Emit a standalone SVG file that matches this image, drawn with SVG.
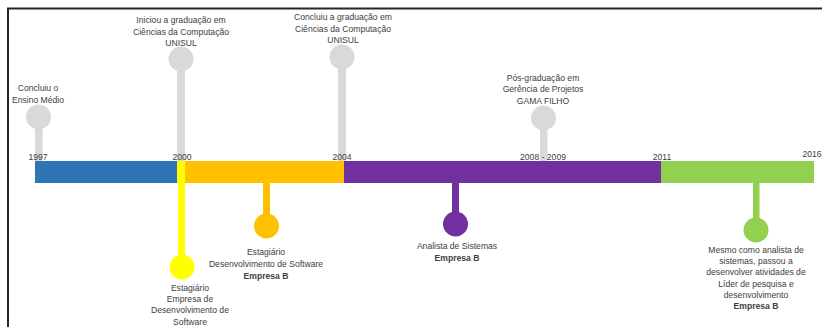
<svg xmlns="http://www.w3.org/2000/svg" width="822" height="327" viewBox="0 0 822 327">
  <style>
    text { font-family: "Liberation Sans", Arial, sans-serif; font-size: 8.6px; fill: #404040; text-anchor: middle; }
    .b { font-weight: bold; }
    .yr { font-size: 8.6px; }
    .gray { fill: #D9D9D9; }
    .gstem { fill: #D9D9D9; }
  </style>
  <rect width="822" height="327" fill="#ffffff"/>
  <!-- frame -->
  <path d="M8 327 V8.5 H822" fill="none" stroke="#262626" stroke-width="2"/>

  <!-- stems (connectors between the timeline and each event marker) -->
  <g id="connectors">
    <rect x="35" y="117" width="7.5" height="44" class="gstem"/>
    <rect x="177" y="59" width="8" height="102" class="gstem"/>
    <rect x="338" y="57" width="8" height="104" class="gstem"/>
    <rect x="540" y="118" width="7.5" height="43" class="gstem"/>
    <rect x="178" y="183" width="7" height="84" fill="#FFFF00"/>
    <rect x="263" y="183" width="7" height="43" fill="#FFC000"/>
    <rect x="452" y="183" width="7" height="41" fill="#7030A0"/>
    <rect x="753" y="183" width="6.5" height="47" fill="#92D050"/>
  </g>

  <!-- timeline bar -->
  <g id="timeline">
    <rect x="35" y="161" width="142" height="22" fill="#2E75B6"/>
    <rect x="177" y="161" width="8" height="22" fill="#FFFF00"/>
    <rect x="185" y="161" width="159" height="22" fill="#FFC000"/>
    <rect x="344" y="161" width="317" height="22" fill="#7030A0"/>
    <rect x="661" y="161" width="153" height="22" fill="#92D050"/>
    <text class="yr" x="38" y="159.5">1997</text>
    <text class="yr" x="182" y="159.5">2000</text>
    <text class="yr" x="342" y="159.5">2004</text>
    <text class="yr" x="543" y="159.5">2008 - 2009</text>
    <text class="yr" x="662" y="159.5">2011</text>
    <text class="yr" x="812" y="156.5">2016</text>
  </g>

  <g id="ensino-medio">
    <circle cx="38.5" cy="117" r="12.5" class="gray"/>
    <text x="38" y="91">Concluiu o</text>
    <text x="38" y="103">Ensino Médio</text>
  </g>

  <g id="inicio-graduacao">
    <circle cx="181" cy="59" r="12.5" class="gray"/>
    <text x="181" y="23">Iniciou a graduação em</text>
    <text x="181" y="34.5">Ciências da Computação</text>
    <text x="181" y="46">UNISUL</text>
  </g>

  <g id="fim-graduacao">
    <circle cx="342" cy="57" r="12.5" class="gray"/>
    <text x="343" y="20">Concluiu a graduação em</text>
    <text x="343" y="31.5">Ciências da Computação</text>
    <text x="343" y="43">UNISUL</text>
  </g>

  <g id="pos-graduacao">
    <circle cx="543.5" cy="118" r="12.5" class="gray"/>
    <text x="543" y="80.5">Pós-graduação em</text>
    <text x="543" y="92">Gerência de Projetos</text>
    <text x="543" y="103.5">GAMA FILHO</text>
  </g>

  <g id="estagio-1">
    <circle cx="182" cy="267" r="12.5" fill="#FFFF00"/>
    <text x="190" y="291">Estagiário</text>
    <text x="190" y="302">Empresa de</text>
    <text x="190" y="313">Desenvolvimento de</text>
    <text x="190" y="324.5">Software</text>
  </g>

  <g id="estagio-2">
    <circle cx="266.5" cy="226" r="12.5" fill="#FFC000"/>
    <text x="266" y="255">Estagiário</text>
    <text x="266" y="267">Desenvolvimento de Software</text>
    <text x="266" y="279" class="b">Empresa B</text>
  </g>

  <g id="analista">
    <circle cx="455.5" cy="224" r="12.5" fill="#7030A0"/>
    <text x="457" y="249">Analista de Sistemas</text>
    <text x="457" y="261" class="b">Empresa B</text>
  </g>

  <g id="lider">
    <circle cx="756" cy="230" r="12.5" fill="#92D050"/>
    <text x="756" y="253">Mesmo como analista de</text>
    <text x="756" y="264">sistemas, passou a</text>
    <text x="756" y="275">desenvolver atividades de</text>
    <text x="756" y="286.5">Líder de pesquisa e</text>
    <text x="756" y="297.5">desenvolvimento</text>
    <text x="756" y="309" class="b">Empresa B</text>
  </g>
</svg>
